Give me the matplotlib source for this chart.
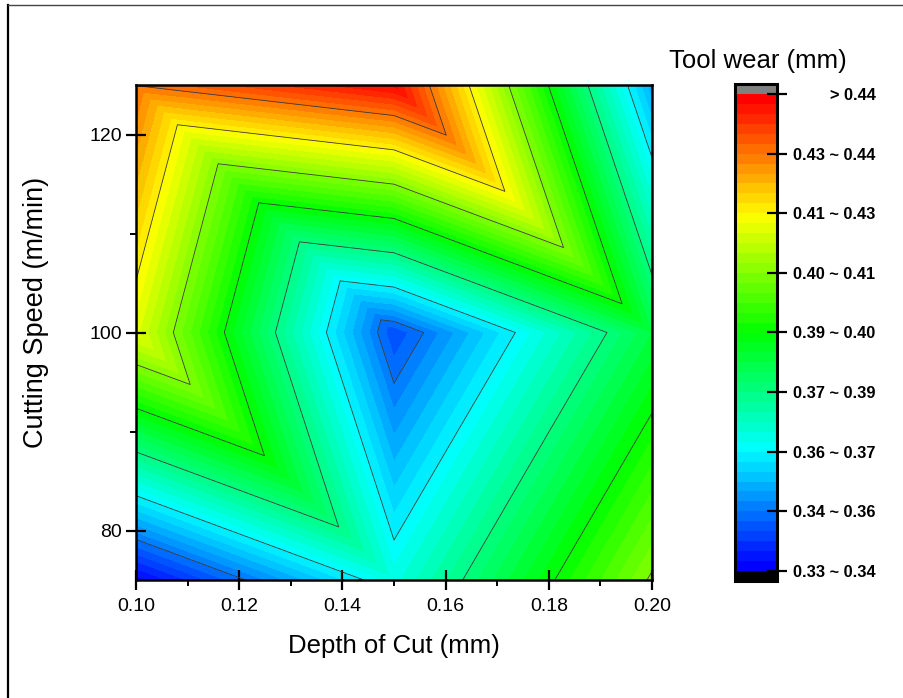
import numpy as np
import matplotlib
matplotlib.use("Agg")
import matplotlib.pyplot as plt
import matplotlib.tri as mtri
from matplotlib.colors import LinearSegmentedColormap, ListedColormap, BoundaryNorm
from matplotlib.lines import Line2D

plt.rcParams["font.family"] = ["Liberation Sans", "DejaVu Sans"]

# L9 runs: depth of cut (mm), cutting speed (m/min), tool wear (mm)
depth = [0.10, 0.15, 0.20, 0.10, 0.15, 0.20, 0.10, 0.15, 0.20]
speed = [75, 75, 75, 100, 100, 100, 125, 125, 125]
wear = [0.331, 0.361, 0.3995, 0.4088, 0.3393, 0.378, 0.4265, 0.4385, 0.349]

# triangle connectivity of the 3x3 grid (point indices)
triangles = [[0, 1, 3], [1, 4, 3],
             [1, 2, 5], [1, 5, 4],
             [3, 4, 6], [4, 7, 6],
             [4, 5, 7], [5, 8, 7]]

major_levels = np.linspace(0.33, 0.44, 9)
cbar_labels = ["0.33 ~ 0.34", "0.34 ~ 0.36", "0.36 ~ 0.37", "0.37 ~ 0.39",
               "0.39 ~ 0.40", "0.40 ~ 0.41", "0.41 ~ 0.43", "0.43 ~ 0.44", "> 0.44"]

W, H = 904, 698
fig = plt.figure(figsize=(W / 100, H / 100), dpi=100)

# rainbow fill, 6 sub-bands per major interval
n_sub = 6
fill_levels = np.linspace(0.33, 0.44, 8 * n_sub + 1)
rainbow = LinearSegmentedColormap.from_list(
    "rainbow_o", ["#0000ff", "#00ffff", "#00ff00", "#ffff00", "#ff0000"])
cmap = ListedColormap(rainbow(np.linspace(0, 1, len(fill_levels) - 1)))
cmap.set_over("#808080")
cmap.set_under("#000000")
norm = BoundaryNorm(fill_levels, cmap.N)

ax = fig.add_axes([136 / W, 1 - 580 / H, 516 / W, 495 / H])
tri = mtri.Triangulation(depth, speed, triangles)
cf = ax.tricontourf(tri, wear, levels=fill_levels, cmap=cmap, norm=norm, extend="both")
ax.tricontour(tri, wear, levels=major_levels, colors="#3a3a3a", linewidths=0.6)

ax.set_xlim(0.10, 0.20)
ax.set_ylim(75, 125)
ax.set_xticks(np.arange(0.10, 0.201, 0.02))
ax.set_xticks(np.arange(0.11, 0.20, 0.02), minor=True)
ax.set_yticks([80, 100, 120])
ax.set_yticks([90, 110], minor=True)
ax.set_xticklabels([f"{v:.2f}" for v in np.arange(0.10, 0.201, 0.02)])
ax.tick_params(which="major", direction="inout", length=14, width=1.6,
               labelsize=14, pad=6)
ax.tick_params(axis="y", which="major", pad=3)
ax.tick_params(which="minor", direction="out", length=4, width=1.4)
for s in ax.spines.values():
    s.set_linewidth(1.8)
ax.set_xlabel("Depth of Cut (mm)", fontsize=18.5, labelpad=14)
ax.set_ylabel("Cutting Speed (m/min)", fontsize=19.5)
ax.yaxis.set_label_coords(-0.168, 0.54)

# colour scale with over/under boxes
cax = fig.add_axes([735 / W, 1 - 581 / H, 42 / W, 497 / H])
cb = fig.colorbar(cf, cax=cax, ticks=major_levels, extend="both",
                  extendrect=True, extendfrac=0.021, drawedges=False)
cb.outline.set_linewidth(2.2)
cb.ax.tick_params(direction="inout", length=14, width=1.6, pad=64, labelsize=11.8)
cb.ax.set_yticklabels(cbar_labels, fontweight="bold")
for lab in cb.ax.get_yticklabels():
    lab.set_horizontalalignment("right")
cb.ax.minorticks_off()
fig.text(758 / W, 1 - 61 / H, "Tool wear (mm)", fontsize=18.5, ha="center", va="center")

# page frame (left and top edges)
fig.add_artist(Line2D([8 / W, 8 / W], [0, 1 - 5 / H], transform=fig.transFigure,
                      color="black", lw=1.6))
fig.add_artist(Line2D([8 / W, 1], [1 - 5 / H, 1 - 5 / H], transform=fig.transFigure,
                      color="#444444", lw=1.0))

fig.savefig("out.png", dpi=100)
